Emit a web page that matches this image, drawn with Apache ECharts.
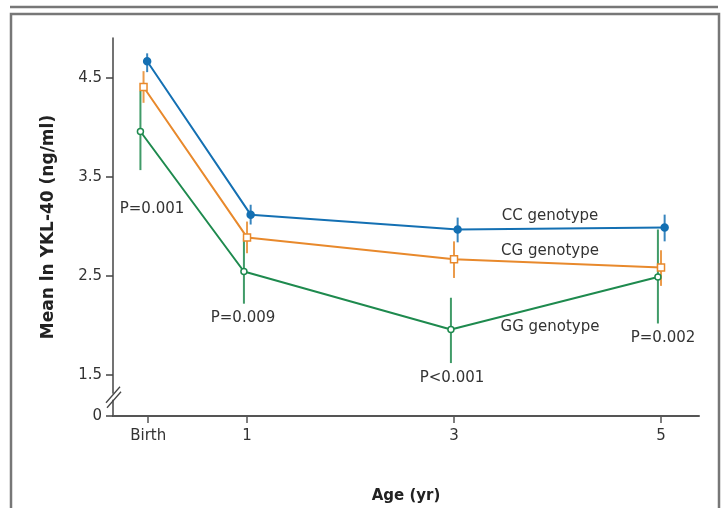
<!DOCTYPE html>
<html>
<head>
<meta charset="utf-8">
<script src="https://cdn.jsdelivr.net/npm/echarts@6/dist/echarts.min.js"></script>
<style>
  html,body{margin:0;padding:0;background:#fff;}
  #main{width:723px;height:508px;}
</style>
</head>
<body>
<div id="main"></div>
<script>
// ages (yr), Birth = 0
var ages=[0,1,3,5];
var ageLabels=['Birth','1','3','5'];
var yTicks=[1.5,2.5,3.5,4.5];

// mean ln YKL-40 and error bar ends, per genotype
var ccMean=[4.67,3.12,2.97,2.99];
var ccLow=[4.56,3.02,2.84,2.85];
var ccHigh=[4.75,3.22,3.09,3.12];

var cgMean=[4.41,2.89,2.67,2.585];
var cgLow=[4.25,2.73,2.48,2.40];
var cgHigh=[4.57,3.05,2.85,2.76];

var ggMean=[3.96,2.545,1.96,2.49];
var ggLow=[3.57,2.22,1.62,2.02];
var ggHigh=[4.37,2.88,2.28,2.97];

var pLabels=['P=0.001','P=0.009','P<0.001','P=0.002'];

var font='"DejaVu Sans", sans-serif';
var yMin=1.085, yMax=4.905;

function pts(mean,dx){
  var out=[];
  for(var i=0;i<ages.length;i++) out.push([ages[i]+dx,mean[i]]);
  return out;
}
function bars(low,high,dx){
  var out=[];
  for(var i=0;i<ages.length;i++) out.push([ages[i]+dx,low[i],high[i]]);
  return out;
}
function errSeries(low,high,dx,color){
  return {
    type:'custom',
    z:2,
    data:bars(low,high,dx),
    renderItem:function(params,api){
      var a=api.coord([api.value(0),api.value(1)]);
      var b=api.coord([api.value(0),api.value(2)]);
      return {type:'line',shape:{x1:a[0],y1:a[1],x2:b[0],y2:b[1]},
        style:{stroke:color,lineWidth:2,opacity:0.85}};
    },
    silent:true
  };
}
function lineSeries(mean,dx,color,symbol,size,fill){
  return {
    type:'line',
    z:3,
    data:pts(mean,dx),
    symbol:symbol,
    symbolSize:size,
    showAllSymbol:true,
    lineStyle:{color:color,width:2},
    itemStyle:{color:fill,borderColor:color,borderWidth:1.5},
    silent:true,
    animation:false
  };
}

var blue='#1470b3', orange='#e8892c', green='#1e8a4e';
var tickPos=ages.map(function(a,i){return i==0?a+0.045:a;});
var yTickVals=[yMin].concat(yTicks);

var option={
  animation:false,
  grid:{left:113,right:24,top:38,bottom:92,outerBoundsMode:'none',containLabel:false},
  xAxis:{
    type:'value',min:-0.295,max:5.367,
    axisLine:{onZero:false,lineStyle:{color:'#555',width:2}},
    axisTick:{customValues:tickPos,length:7,inside:false,lineStyle:{color:'#555',width:1.5}},
    axisLabel:{customValues:tickPos,margin:13,color:'#333',fontSize:15,fontFamily:font,
      formatter:function(v){
        for(var i=0;i<tickPos.length;i++) if(Math.abs(tickPos[i]-v)<1e-6) return ageLabels[i];
        return '';
      }},
    splitLine:{show:false},
    name:'Age (yr)',nameLocation:'middle',nameGap:73,
    nameTextStyle:{fontWeight:'bold',fontSize:15,color:'#222',fontFamily:font}
  },
  yAxis:{
    type:'value',min:yMin,max:yMax,
    axisLine:{show:true,onZero:false,lineStyle:{color:'#444',width:1.5}},
    axisTick:{customValues:yTickVals,length:7,lineStyle:{color:'#444',width:1.5}},
    axisLabel:{customValues:yTickVals,margin:11,color:'#333',fontSize:15,fontFamily:font,
      formatter:function(v){return v<1.2?'0':v.toFixed(1);}},
    splitLine:{show:false},
    name:'Mean ln YKL-40 (ng/ml)',nameLocation:'middle',nameGap:56,
    nameTextStyle:{fontWeight:'bold',fontSize:17,color:'#222',fontFamily:font}
  },
  series:[
    errSeries(ggLow,ggHigh,-0.03,green),
    errSeries(cgLow,cgHigh,0,orange),
    errSeries(ccLow,ccHigh,0.035,blue),
    lineSeries(ggMean,-0.03,green,'circle',6,'#fff'),
    lineSeries(cgMean,0,orange,'rect',7,'#fff'),
    lineSeries(ccMean,0.035,blue,'circle',7,blue)
  ]
};

var chart=echarts.init(document.getElementById('main'));
chart.setOption(option);

// frame, annotations, axis break
var txt={fill:'#333',fontSize:15,fontFamily:font,align:'center',verticalAlign:'middle'};
function label(s,x,y){
  return {type:'text',x:x,y:y,z:10,style:Object.assign({text:s},txt)};
}
var org=chart.convertToPixel({gridIndex:0},[-0.295,1.28]);
var ax=org[0], by=org[1];
var graphic=[
  {type:'line',shape:{x1:10,y1:7,x2:718,y2:7},style:{stroke:'#777',lineWidth:2.5}},
  {type:'rect',shape:{x:11,y:14,width:708,height:520},style:{fill:'none',stroke:'#777',lineWidth:2.5}},
  {type:'rect',shape:{x:ax-3,y:by-3,width:6,height:6},style:{fill:'#fff'},z:20},
  {type:'line',shape:{x1:ax-7,y1:by+6,x2:ax+7,y2:by-10},style:{stroke:'#444',lineWidth:1.3},z:21},
  {type:'line',shape:{x1:ax-6,y1:by+11,x2:ax+8,y2:by-5},style:{stroke:'#444',lineWidth:1.3},z:21},
  label('CC genotype',550,216),
  label('CG genotype',550,251),
  label('GG genotype',550,327),
  label(pLabels[0],152,209),
  label(pLabels[1],243,318),
  label(pLabels[2],452,378),
  label(pLabels[3],663,338)
];
chart.setOption({graphic:graphic});
</script>
</body>
</html>
